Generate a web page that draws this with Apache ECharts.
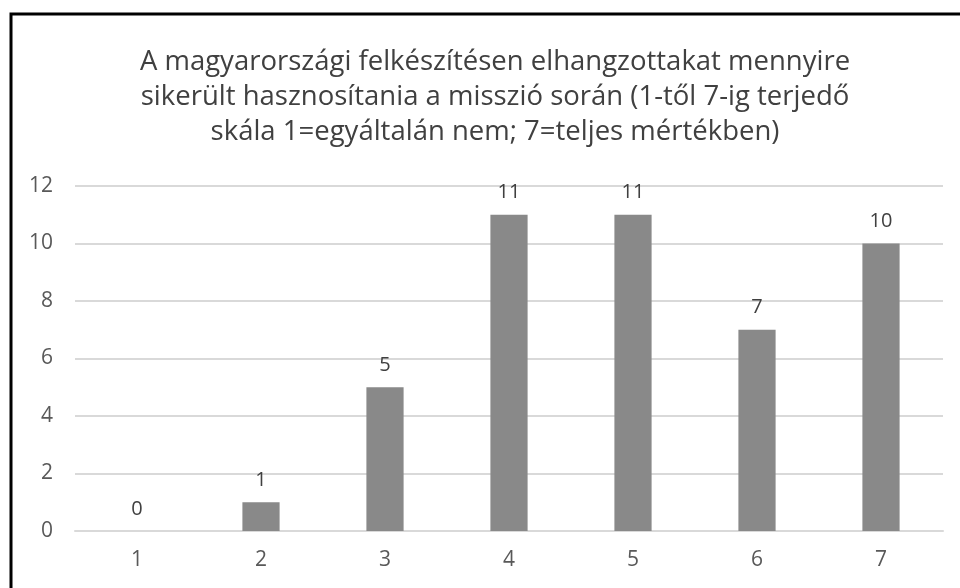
<!DOCTYPE html>
<html>
<head>
<meta charset="utf-8">
<style>
  html, body { margin: 0; padding: 0; background: #fff; }
  #chart { width: 960px; height: 588px; }
</style>
<script src="https://cdn.jsdelivr.net/npm/echarts@6/dist/echarts.min.js"></script>
</head>
<body>
<div id="chart"></div>
<script>
// scale points 1..7 and number of answers
const categories = ['1', '2', '3', '4', '5', '6', '7'];
const counts = [0, 1, 5, 11, 11, 7, 10];
const yTicks = [0, 2, 4, 6, 8, 10, 12];

const titleText = 'A magyarországi felkészítésen elhangzottakat mennyire\n' +
  'sikerült hasznosítania a misszió során (1-től 7-ig terjedő\n' +
  'skála 1=egyáltalán nem; 7=teljes mértékben)';

const chart = echarts.init(document.getElementById('chart'));

chart.setOption({
  animation: false,
  textStyle: { fontFamily: '"Open Sans", sans-serif' },
  title: {
    text: titleText,
    left: 490,
    top: 40,
    textAlign: 'center',
    textStyle: {
      color: '#404040',
      fontSize: 27.5,
      fontWeight: 'normal',
      lineHeight: 35
    }
  },
  graphic: [
    {
      type: 'rect',
      shape: { x: 11, y: 14, width: 1000, height: 620 },
      style: { fill: 'none', stroke: '#000', lineWidth: 3 },
      silent: true
    }
  ],
  grid: { left: 75, right: 17, top: 186, bottom: 57 },
  xAxis: {
    type: 'category',
    data: categories,
    axisLine: { lineStyle: { color: '#d9d9d9', width: 2 } },
    axisTick: { show: false },
    axisLabel: { color: '#595959', fontSize: 21, margin: 19 }
  },
  yAxis: {
    type: 'value',
    min: yTicks[0],
    max: yTicks[yTicks.length - 1],
    interval: 2,
    axisLine: { show: false },
    axisTick: { show: false },
    axisLabel: { color: '#595959', fontSize: 21, margin: 22 },
    splitLine: { lineStyle: { color: '#d9d9d9', width: 2 } }
  },
  series: [
    {
      type: 'bar',
      data: counts,
      barWidth: '30%',
      itemStyle: { color: '#898989' },
      label: {
        show: true,
        position: 'top',
        distance: 12,
        color: '#404040',
        fontSize: 20
      }
    }
  ]
});
</script>
</body>
</html>
